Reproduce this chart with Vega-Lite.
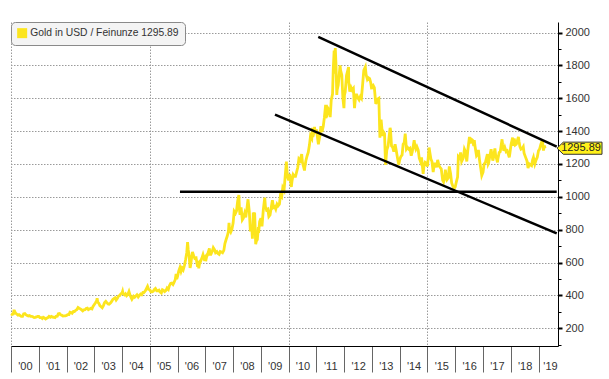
{
"$schema": "https://vega.github.io/schema/vega-lite/v6.json",
"width": 547,
"height": 324,
"autosize": {"type": "none"},
"padding": {"left": 11, "top": 22, "right": 51, "bottom": 33},
"background": "white",
"config": {"view": {"stroke": null}, "font": "Liberation Sans", "axis": {"labelFont": "Liberation Sans", "labelFontSize": 11, "labelColor": "#333333"}},
"datasets": {
"gold": [
{"date":"2000-01-01","price":288},{"date":"2000-01-15","price":284},{"date":"2000-02-01","price":287},{"date":"2000-02-10","price":312},{"date":"2000-02-15","price":305},{"date":"2000-03-01","price":292},{"date":"2000-03-15","price":287},{"date":"2000-04-01","price":280},{"date":"2000-04-15","price":283},{"date":"2000-05-01","price":277},{"date":"2000-05-15","price":272},{"date":"2000-06-01","price":272},{"date":"2000-06-15","price":288},{"date":"2000-07-01","price":290},{"date":"2000-07-15","price":282},{"date":"2000-08-01","price":277},{"date":"2000-08-15","price":274},{"date":"2000-09-01","price":277},{"date":"2000-09-15","price":272},{"date":"2000-10-01","price":272},{"date":"2000-10-15","price":270},{"date":"2000-11-01","price":265},{"date":"2000-11-15","price":266},{"date":"2000-12-01","price":269},{"date":"2000-12-15","price":272},
{"date":"2001-01-01","price":272},{"date":"2001-01-15","price":265},{"date":"2001-02-01","price":265},{"date":"2001-02-15","price":259},{"date":"2001-03-01","price":267},{"date":"2001-03-15","price":263},{"date":"2001-04-01","price":256},{"date":"2001-04-15","price":261},{"date":"2001-05-01","price":265},{"date":"2001-05-15","price":272},{"date":"2001-06-01","price":267},{"date":"2001-06-15","price":272},{"date":"2001-07-01","price":268},{"date":"2001-07-15","price":267},{"date":"2001-08-01","price":265},{"date":"2001-08-15","price":273},{"date":"2001-09-01","price":274},{"date":"2001-09-15","price":288},{"date":"2001-10-01","price":290},{"date":"2001-10-15","price":282},{"date":"2001-11-01","price":279},{"date":"2001-11-15","price":274},{"date":"2001-12-01","price":275},{"date":"2001-12-15","price":276},
{"date":"2002-01-01","price":278},{"date":"2002-01-15","price":283},{"date":"2002-02-01","price":283},{"date":"2002-02-15","price":298},{"date":"2002-03-01","price":296},{"date":"2002-03-15","price":291},{"date":"2002-04-01","price":302},{"date":"2002-04-15","price":302},{"date":"2002-05-01","price":309},{"date":"2002-05-15","price":313},{"date":"2002-06-01","price":326},{"date":"2002-06-15","price":322},{"date":"2002-07-01","price":318},{"date":"2002-07-15","price":313},{"date":"2002-08-01","price":306},{"date":"2002-08-15","price":312},{"date":"2002-09-01","price":313},{"date":"2002-09-15","price":320},{"date":"2002-10-01","price":322},{"date":"2002-10-15","price":313},{"date":"2002-11-01","price":318},{"date":"2002-11-15","price":321},{"date":"2002-12-01","price":318},{"date":"2002-12-15","price":333},
{"date":"2003-01-01","price":345},{"date":"2003-01-15","price":354},{"date":"2003-02-01","price":368},{"date":"2003-02-07","price":382},{"date":"2003-02-15","price":360},{"date":"2003-03-01","price":352},{"date":"2003-03-15","price":338},{"date":"2003-04-01","price":331},{"date":"2003-04-15","price":325},{"date":"2003-05-01","price":338},{"date":"2003-05-15","price":355},{"date":"2003-06-01","price":364},{"date":"2003-06-15","price":356},{"date":"2003-07-01","price":348},{"date":"2003-07-15","price":346},{"date":"2003-08-01","price":353},{"date":"2003-08-15","price":362},{"date":"2003-09-01","price":375},{"date":"2003-09-15","price":380},{"date":"2003-10-01","price":385},{"date":"2003-10-15","price":372},{"date":"2003-11-01","price":383},{"date":"2003-11-15","price":396},{"date":"2003-12-01","price":399},{"date":"2003-12-15","price":409},
{"date":"2004-01-01","price":415},{"date":"2004-01-08","price":425},{"date":"2004-01-15","price":410},{"date":"2004-02-01","price":403},{"date":"2004-02-15","price":410},{"date":"2004-03-01","price":398},{"date":"2004-03-15","price":404},{"date":"2004-04-01","price":424},{"date":"2004-04-15","price":402},{"date":"2004-05-01","price":385},{"date":"2004-05-10","price":376},{"date":"2004-05-15","price":380},{"date":"2004-06-01","price":395},{"date":"2004-06-15","price":389},{"date":"2004-07-01","price":397},{"date":"2004-07-15","price":404},{"date":"2004-08-01","price":391},{"date":"2004-08-15","price":400},{"date":"2004-09-01","price":408},{"date":"2004-09-15","price":404},{"date":"2004-10-01","price":418},{"date":"2004-10-15","price":417},{"date":"2004-11-01","price":427},{"date":"2004-11-15","price":440},{"date":"2004-12-01","price":455},{"date":"2004-12-15","price":437},
{"date":"2005-01-01","price":434},{"date":"2005-01-15","price":422},{"date":"2005-02-01","price":422},{"date":"2005-02-15","price":425},{"date":"2005-03-01","price":436},{"date":"2005-03-15","price":442},{"date":"2005-04-01","price":428},{"date":"2005-04-15","price":428},{"date":"2005-05-01","price":432},{"date":"2005-05-15","price":421},{"date":"2005-06-01","price":415},{"date":"2005-06-15","price":434},{"date":"2005-07-01","price":430},{"date":"2005-07-15","price":423},{"date":"2005-08-01","price":430},{"date":"2005-08-15","price":445},{"date":"2005-09-01","price":436},{"date":"2005-09-15","price":459},{"date":"2005-10-01","price":473},{"date":"2005-10-15","price":475},{"date":"2005-11-01","price":466},{"date":"2005-11-15","price":479},{"date":"2005-12-01","price":497},{"date":"2005-12-12","price":530},{"date":"2005-12-20","price":500},
{"date":"2006-01-01","price":517},{"date":"2006-01-15","price":548},{"date":"2006-02-01","price":570},{"date":"2006-02-15","price":546},{"date":"2006-03-01","price":565},{"date":"2006-03-15","price":555},{"date":"2006-04-01","price":583},{"date":"2006-04-15","price":615},{"date":"2006-05-01","price":660},{"date":"2006-05-12","price":725},{"date":"2006-05-20","price":680},{"date":"2006-06-01","price":640},{"date":"2006-06-14","price":567},{"date":"2006-06-20","price":580},{"date":"2006-07-01","price":620},{"date":"2006-07-15","price":665},{"date":"2006-08-01","price":640},{"date":"2006-08-15","price":625},{"date":"2006-09-01","price":628},{"date":"2006-09-15","price":590},{"date":"2006-10-01","price":598},{"date":"2006-10-06","price":565},{"date":"2006-10-15","price":590},{"date":"2006-11-01","price":610},{"date":"2006-11-15","price":625},{"date":"2006-12-01","price":648},{"date":"2006-12-15","price":625},
{"date":"2007-01-01","price":635},{"date":"2007-01-05","price":608},{"date":"2007-01-15","price":630},{"date":"2007-02-01","price":652},{"date":"2007-02-23","price":686},{"date":"2007-03-01","price":650},{"date":"2007-03-15","price":650},{"date":"2007-04-01","price":668},{"date":"2007-04-15","price":690},{"date":"2007-05-01","price":678},{"date":"2007-05-15","price":660},{"date":"2007-06-01","price":666},{"date":"2007-06-15","price":655},{"date":"2007-07-01","price":650},{"date":"2007-07-15","price":667},{"date":"2007-08-01","price":664},{"date":"2007-08-15","price":660},{"date":"2007-09-01","price":674},{"date":"2007-09-15","price":715},{"date":"2007-10-01","price":740},{"date":"2007-10-15","price":760},{"date":"2007-11-01","price":790},{"date":"2007-11-08","price":841},{"date":"2007-11-15","price":800},{"date":"2007-12-01","price":785},{"date":"2007-12-15","price":800},
{"date":"2008-01-01","price":840},{"date":"2008-01-15","price":912},{"date":"2008-02-01","price":900},{"date":"2008-02-15","price":915},{"date":"2008-03-01","price":975},{"date":"2008-03-17","price":1011},{"date":"2008-03-25","price":920},{"date":"2008-04-01","price":890},{"date":"2008-04-15","price":935},{"date":"2008-05-01","price":860},{"date":"2008-05-15","price":870},{"date":"2008-06-01","price":900},{"date":"2008-06-15","price":875},{"date":"2008-07-01","price":930},{"date":"2008-07-15","price":985},{"date":"2008-08-01","price":910},{"date":"2008-08-15","price":790},{"date":"2008-09-01","price":830},{"date":"2008-09-11","price":745},{"date":"2008-09-22","price":905},{"date":"2008-10-01","price":880},{"date":"2008-10-10","price":905},{"date":"2008-10-24","price":712},{"date":"2008-11-01","price":730},{"date":"2008-11-15","price":740},{"date":"2008-11-28","price":815},{"date":"2008-12-01","price":780},{"date":"2008-12-15","price":850},
{"date":"2009-01-01","price":870},{"date":"2009-01-15","price":820},{"date":"2009-02-01","price":920},{"date":"2009-02-20","price":995},{"date":"2009-03-01","price":940},{"date":"2009-03-15","price":920},{"date":"2009-04-01","price":925},{"date":"2009-04-15","price":880},{"date":"2009-05-01","price":890},{"date":"2009-05-15","price":930},{"date":"2009-06-01","price":980},{"date":"2009-06-15","price":935},{"date":"2009-07-01","price":940},{"date":"2009-07-15","price":925},{"date":"2009-08-01","price":955},{"date":"2009-08-15","price":945},{"date":"2009-09-01","price":955},{"date":"2009-09-15","price":1010},{"date":"2009-10-01","price":1000},{"date":"2009-10-15","price":1055},{"date":"2009-11-01","price":1040},{"date":"2009-11-15","price":1120},{"date":"2009-12-02","price":1215},{"date":"2009-12-15","price":1125},
{"date":"2010-01-01","price":1100},{"date":"2010-01-15","price":1140},{"date":"2010-02-05","price":1060},{"date":"2010-02-15","price":1100},{"date":"2010-03-01","price":1135},{"date":"2010-03-15","price":1125},{"date":"2010-04-01","price":1125},{"date":"2010-04-15","price":1150},{"date":"2010-05-01","price":1180},{"date":"2010-05-15","price":1230},{"date":"2010-06-01","price":1220},{"date":"2010-06-21","price":1260},{"date":"2010-07-01","price":1210},{"date":"2010-07-28","price":1160},{"date":"2010-08-01","price":1180},{"date":"2010-08-15","price":1220},{"date":"2010-09-01","price":1250},{"date":"2010-09-15","price":1270},{"date":"2010-10-01","price":1315},{"date":"2010-10-15","price":1370},{"date":"2010-11-01","price":1355},{"date":"2010-11-09","price":1420},{"date":"2010-11-15","price":1365},{"date":"2010-12-01","price":1395},{"date":"2010-12-07","price":1425},{"date":"2010-12-15","price":1385},
{"date":"2011-01-01","price":1410},{"date":"2011-01-27","price":1320},{"date":"2011-02-01","price":1335},{"date":"2011-02-15","price":1370},{"date":"2011-03-01","price":1430},{"date":"2011-03-15","price":1395},{"date":"2011-04-01","price":1430},{"date":"2011-04-15","price":1480},{"date":"2011-05-02","price":1560},{"date":"2011-05-05","price":1480},{"date":"2011-05-15","price":1490},{"date":"2011-06-01","price":1540},{"date":"2011-06-15","price":1530},{"date":"2011-07-01","price":1485},{"date":"2011-07-15","price":1590},{"date":"2011-08-01","price":1625},{"date":"2011-08-10","price":1770},{"date":"2011-08-22","price":1890},{"date":"2011-08-25","price":1750},{"date":"2011-09-06","price":1905},{"date":"2011-09-15","price":1810},{"date":"2011-09-26","price":1620},{"date":"2011-10-01","price":1650},{"date":"2011-10-15","price":1680},{"date":"2011-11-08","price":1800},{"date":"2011-11-15","price":1770},{"date":"2011-12-01","price":1740},{"date":"2011-12-15","price":1600},{"date":"2011-12-29","price":1540},
{"date":"2012-01-05","price":1620},{"date":"2012-01-15","price":1640},{"date":"2012-02-01","price":1740},{"date":"2012-02-28","price":1790},{"date":"2012-03-01","price":1700},{"date":"2012-03-15","price":1640},{"date":"2012-04-01","price":1665},{"date":"2012-04-15","price":1650},{"date":"2012-05-01","price":1660},{"date":"2012-05-16","price":1540},{"date":"2012-06-01","price":1620},{"date":"2012-06-15","price":1620},{"date":"2012-07-01","price":1600},{"date":"2012-07-15","price":1590},{"date":"2012-08-01","price":1610},{"date":"2012-08-15","price":1600},{"date":"2012-09-01","price":1690},{"date":"2012-09-15","price":1770},{"date":"2012-10-05","price":1790},{"date":"2012-10-15","price":1745},{"date":"2012-11-01","price":1715},{"date":"2012-11-15","price":1725},{"date":"2012-12-01","price":1720},{"date":"2012-12-15","price":1695},{"date":"2012-12-28","price":1655},
{"date":"2013-01-01","price":1675},{"date":"2013-01-15","price":1680},{"date":"2013-02-01","price":1665},{"date":"2013-02-20","price":1565},{"date":"2013-03-01","price":1575},{"date":"2013-03-15","price":1595},{"date":"2013-04-01","price":1600},{"date":"2013-04-15","price":1360},{"date":"2013-04-25","price":1460},{"date":"2013-05-01","price":1470},{"date":"2013-05-20","price":1370},{"date":"2013-06-01","price":1395},{"date":"2013-06-15","price":1385},{"date":"2013-06-28","price":1195},{"date":"2013-07-15","price":1285},{"date":"2013-08-01","price":1310},{"date":"2013-08-27","price":1420},{"date":"2013-09-01","price":1410},{"date":"2013-09-15","price":1310},{"date":"2013-10-01","price":1300},{"date":"2013-10-15","price":1275},{"date":"2013-11-01","price":1320},{"date":"2013-11-15","price":1285},{"date":"2013-12-01","price":1240},{"date":"2013-12-19","price":1195},
{"date":"2014-01-01","price":1225},{"date":"2014-01-15","price":1245},{"date":"2014-02-01","price":1255},{"date":"2014-02-15","price":1320},{"date":"2014-03-01","price":1330},{"date":"2014-03-14","price":1385},{"date":"2014-03-30","price":1290},{"date":"2014-04-15","price":1300},{"date":"2014-05-01","price":1290},{"date":"2014-05-15","price":1295},{"date":"2014-06-01","price":1250},{"date":"2014-06-15","price":1275},{"date":"2014-07-10","price":1345},{"date":"2014-07-20","price":1310},{"date":"2014-08-01","price":1290},{"date":"2014-08-15","price":1305},{"date":"2014-09-01","price":1285},{"date":"2014-09-15","price":1235},{"date":"2014-10-01","price":1215},{"date":"2014-10-15","price":1240},{"date":"2014-11-05","price":1140},{"date":"2014-11-15","price":1185},{"date":"2014-12-01","price":1210},{"date":"2014-12-15","price":1205},
{"date":"2015-01-01","price":1185},{"date":"2015-01-22","price":1300},{"date":"2015-02-01","price":1270},{"date":"2015-02-15","price":1230},{"date":"2015-03-01","price":1215},{"date":"2015-03-17","price":1150},{"date":"2015-04-01","price":1200},{"date":"2015-04-15","price":1200},{"date":"2015-05-01","price":1180},{"date":"2015-05-15","price":1225},{"date":"2015-06-01","price":1190},{"date":"2015-06-15","price":1180},{"date":"2015-07-01","price":1170},{"date":"2015-07-20","price":1100},{"date":"2015-08-01","price":1090},{"date":"2015-08-15","price":1115},{"date":"2015-08-24","price":1165},{"date":"2015-09-01","price":1135},{"date":"2015-09-15","price":1105},{"date":"2015-10-01","price":1115},{"date":"2015-10-15","price":1185},{"date":"2015-11-01","price":1140},{"date":"2015-11-15","price":1085},{"date":"2015-12-01","price":1065},{"date":"2015-12-17","price":1050},
{"date":"2016-01-01","price":1060},{"date":"2016-01-15","price":1090},{"date":"2016-02-01","price":1120},{"date":"2016-02-11","price":1245},{"date":"2016-03-01","price":1235},{"date":"2016-03-11","price":1270},{"date":"2016-03-25","price":1215},{"date":"2016-04-15","price":1235},{"date":"2016-05-01","price":1290},{"date":"2016-05-15","price":1275},{"date":"2016-06-01","price":1215},{"date":"2016-06-15","price":1285},{"date":"2016-07-06","price":1365},{"date":"2016-07-15","price":1325},{"date":"2016-08-01","price":1350},{"date":"2016-08-15","price":1345},{"date":"2016-09-01","price":1310},{"date":"2016-09-08","price":1345},{"date":"2016-09-15","price":1315},{"date":"2016-10-07","price":1250},{"date":"2016-10-15","price":1255},{"date":"2016-11-01","price":1285},{"date":"2016-11-15","price":1225},{"date":"2016-12-01","price":1175},{"date":"2016-12-15","price":1130},
{"date":"2017-01-01","price":1150},{"date":"2017-01-15","price":1200},{"date":"2017-02-01","price":1210},{"date":"2017-02-27","price":1260},{"date":"2017-03-10","price":1200},{"date":"2017-03-15","price":1205},{"date":"2017-04-01","price":1250},{"date":"2017-04-17","price":1290},{"date":"2017-05-09","price":1220},{"date":"2017-05-15","price":1230},{"date":"2017-06-06","price":1295},{"date":"2017-06-15","price":1255},{"date":"2017-07-10","price":1210},{"date":"2017-07-15","price":1230},{"date":"2017-08-01","price":1270},{"date":"2017-08-15","price":1275},{"date":"2017-09-08","price":1350},{"date":"2017-09-15","price":1320},{"date":"2017-10-01","price":1280},{"date":"2017-10-15","price":1300},{"date":"2017-11-01","price":1275},{"date":"2017-11-15","price":1280},{"date":"2017-12-12","price":1240},{"date":"2017-12-20","price":1265},
{"date":"2018-01-05","price":1320},{"date":"2018-01-25","price":1360},{"date":"2018-02-08","price":1310},{"date":"2018-02-15","price":1355},{"date":"2018-03-01","price":1315},{"date":"2018-03-15","price":1320},{"date":"2018-04-11","price":1365},{"date":"2018-04-20","price":1335},{"date":"2018-05-01","price":1305},{"date":"2018-05-15","price":1290},{"date":"2018-06-01","price":1295},{"date":"2018-06-14","price":1305},{"date":"2018-06-25","price":1265},{"date":"2018-07-15","price":1240},{"date":"2018-08-01","price":1220},{"date":"2018-08-16","price":1175},{"date":"2018-09-01","price":1200},{"date":"2018-09-15","price":1195},{"date":"2018-10-01","price":1190},{"date":"2018-10-15","price":1225},{"date":"2018-10-26","price":1240},{"date":"2018-11-13","price":1200},{"date":"2018-11-30","price":1225},{"date":"2018-12-15","price":1240},{"date":"2018-12-31","price":1280},
{"date":"2019-01-15","price":1290},{"date":"2019-02-01","price":1320},{"date":"2019-02-20","price":1345},{"date":"2019-03-07","price":1282},{"date":"2019-03-20","price":1312},{"date":"2019-03-27","price":1296}
],
"trend": [
{"x1":"2011-01-25","y1":1974,"x2":"2019-08-28","y2":1305},
{"x1":"2009-07-05","y1":1500,"x2":"2019-08-28","y2":777},
{"x1":"2006-02-01","y1":1031,"x2":"2019-08-28","y2":1031}
],
"last": [{"date":"2019-09-14","price":1295.89,"label":"1295.89"}]
},
"resolve": {"axis": {"x": "independent", "y": "independent"}},
"layer": [
{
"data": {"name": "gold"},
"mark": {"type": "line", "strokeWidth": 2.8, "interpolate": "linear"},
"encoding": {
"x": {"field": "date", "type": "temporal",
"scale": {"type": "utc", "domain": [{"year":2000,"month":1,"date":1,"utc":true},{"year":2019,"month":9,"date":14,"utc":true}]},
"axis": {"orient": "bottom", "title": null, "labels": false, "grid": false, "domain": true, "domainColor": "#000000", "domainWidth": 1,
"ticks": true, "tickSize": 26, "tickColor": "#666666", "tickWidth": 1,
"values": [{"year":2000,"month":1,"date":1,"utc":true},{"year":2001,"month":1,"date":1,"utc":true},{"year":2002,"month":1,"date":1,"utc":true},{"year":2003,"month":1,"date":1,"utc":true},{"year":2004,"month":1,"date":1,"utc":true},{"year":2005,"month":1,"date":1,"utc":true},{"year":2006,"month":1,"date":1,"utc":true},{"year":2007,"month":1,"date":1,"utc":true},{"year":2008,"month":1,"date":1,"utc":true},{"year":2009,"month":1,"date":1,"utc":true},{"year":2010,"month":1,"date":1,"utc":true},{"year":2011,"month":1,"date":1,"utc":true},{"year":2012,"month":1,"date":1,"utc":true},{"year":2013,"month":1,"date":1,"utc":true},{"year":2014,"month":1,"date":1,"utc":true},{"year":2015,"month":1,"date":1,"utc":true},{"year":2016,"month":1,"date":1,"utc":true},{"year":2017,"month":1,"date":1,"utc":true},{"year":2018,"month":1,"date":1,"utc":true},{"year":2019,"month":1,"date":1,"utc":true}]}},
"y": {"field": "price", "type": "quantitative",
"scale": {"domain": [92, 2064], "nice": false, "zero": false},
"axis": {"title": null, "orient": "right", "format": "d", "values": [200,400,600,800,1000,1200,1400,1600,1800,2000],
"grid": true, "gridColor": "#9a9a9a", "gridDash": [1.5, 1.5], "gridWidth": 1,
"domain": true, "domainColor": "#000000", "tickColor": "#000000", "tickSize": 4, "tickWidth": 2, "labelPadding": 3, "labelFontSize": 11}},
"color": {"datum": "Gold in USD / Feinunze 1295.89", "type": "nominal", "scale": {"range": ["#FCE51E"]},
"legend": {"title": null, "orient": "none", "legendX": 0, "legendY": 0, "fillColor": "#F4F4F4", "strokeColor": "#8a8a8a", "cornerRadius": 4, "padding": 6,
"labelFontSize": 10.3, "labelColor": "#333333", "labelFont": "Liberation Sans", "symbolType": "square", "symbolSize": 100, "symbolOffset": 0, "labelOffset": 3,
"encode": {"symbols": {"update": {"fill": {"value": "#FCE51E"}, "stroke": {"value": "#FCE51E"}, "strokeWidth": {"value": 0}}}}}}
}
},
{
"data": {"name": "trend"},
"mark": {"type": "rule", "color": "#000000", "strokeWidth": 2.5},
"encoding": {
"x": {"field": "x1", "type": "temporal",
"axis": {"orient": "bottom", "title": null, "ticks": false, "domain": false, "grid": false, "format": "'%y", "labelPadding": 14, "labelBaseline": "top",
"values": [{"year":2000,"month":7,"date":2,"utc":true},{"year":2001,"month":7,"date":2,"utc":true},{"year":2002,"month":7,"date":2,"utc":true},{"year":2003,"month":7,"date":2,"utc":true},{"year":2004,"month":7,"date":2,"utc":true},{"year":2005,"month":7,"date":2,"utc":true},{"year":2006,"month":7,"date":2,"utc":true},{"year":2007,"month":7,"date":2,"utc":true},{"year":2008,"month":7,"date":2,"utc":true},{"year":2009,"month":7,"date":2,"utc":true},{"year":2010,"month":7,"date":2,"utc":true},{"year":2011,"month":7,"date":2,"utc":true},{"year":2012,"month":7,"date":2,"utc":true},{"year":2013,"month":7,"date":2,"utc":true},{"year":2014,"month":7,"date":2,"utc":true},{"year":2015,"month":7,"date":2,"utc":true},{"year":2016,"month":7,"date":2,"utc":true},{"year":2017,"month":7,"date":2,"utc":true},{"year":2018,"month":7,"date":2,"utc":true},{"year":2019,"month":6,"date":1,"utc":true}]}},
"x2": {"field": "x2"},
"y": {"field": "y1", "type": "quantitative",
"axis": {"title": null, "orient": "right", "labels": false, "grid": false, "domain": false, "tickColor": "#000000", "tickSize": 3, "tickWidth": 1,
"values": [100,300,500,700,900,1100,1300,1500,1700,1900]}},
"y2": {"field": "y2"}
}
},
{
"data": {"name": "last"},
"mark": {"type": "point", "filled": true, "shape": "M-1,0L-0.72,-0.27L1,-0.27L1,0.27L-0.72,0.27Z", "size": 2025, "fill": "#FFF01A", "stroke": "#333333", "strokeWidth": 1, "opacity": 1, "xOffset": 21.5},
"encoding": {
"x": {"field": "date", "type": "temporal",
"axis": {"orient": "bottom", "title": null, "labels": false, "ticks": false, "domain": false, "grid": true, "gridColor": "#9a9a9a", "gridDash": [1.5, 1.5], "gridWidth": 1,
"values": [{"year":2000,"month":1,"date":1,"utc":true},{"year":2005,"month":1,"date":1,"utc":true},{"year":2010,"month":1,"date":1,"utc":true},{"year":2015,"month":1,"date":1,"utc":true}]}},
"y": {"field": "price", "type": "quantitative", "axis": null}
}
},
{
"data": {"name": "last"},
"mark": {"type": "text", "fontSize": 11, "color": "#222222", "align": "center", "baseline": "middle", "xOffset": 23, "font": "Liberation Sans"},
"encoding": {
"x": {"field": "date", "type": "temporal", "axis": null},
"y": {"field": "price", "type": "quantitative", "axis": null},
"text": {"field": "label"}
}
}
]
}
